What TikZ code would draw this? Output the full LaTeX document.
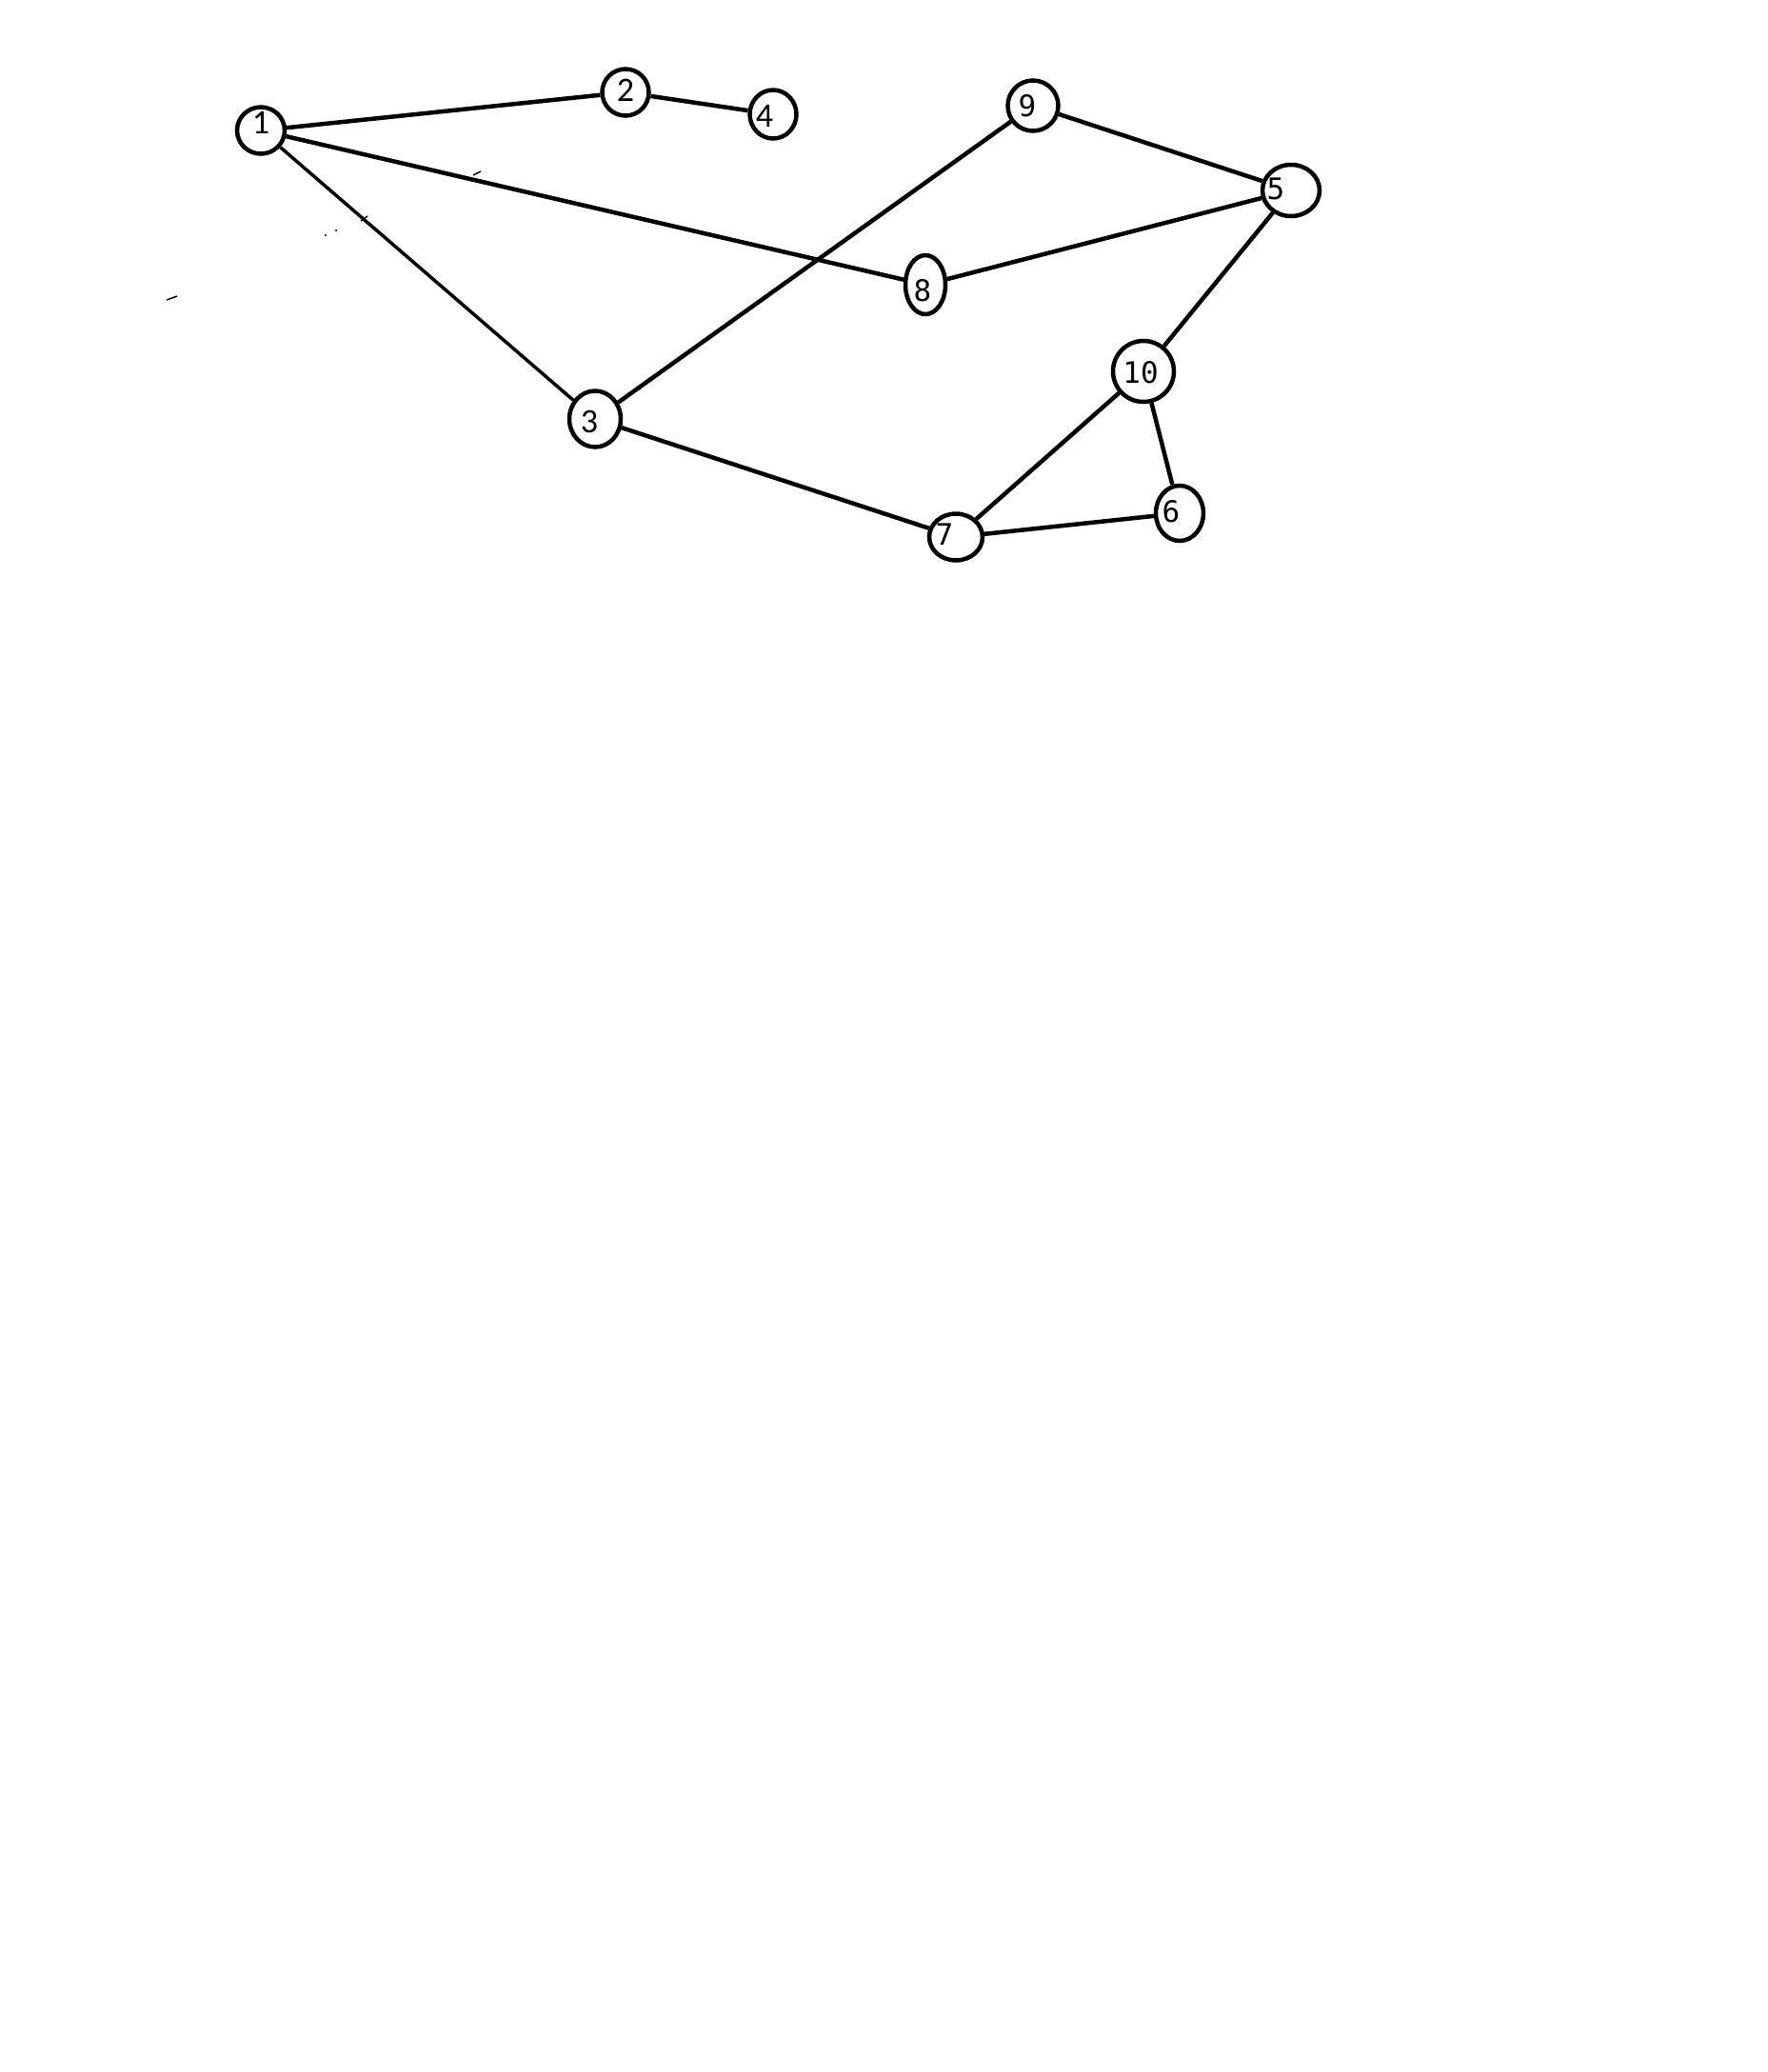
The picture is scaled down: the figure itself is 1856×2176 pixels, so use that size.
\documentclass[tikz,border=0pt]{standalone}
\usepackage{fontspec}
\setmainfont{Carlito}
\newfontfamily\monofnt{DejaVu Sans Mono}
\usetikzlibrary{shapes.geometric}
\tikzset{vertex/.style={draw,ellipse,line width=4.5pt,inner sep=0},
    link/.style={line width=4.5pt},
    sanslabel/.style={font=\fontsize{36}{40}\selectfont,inner sep=0},
    monolabel/.style={font=\monofnt\fontsize{31}{36}\selectfont,inner sep=0},
    speck/.style={line width=1.5pt}
}

\begin{document}
\begin{tikzpicture}[x=1pt,y=-1pt]

\useasboundingbox (0,0) rectangle (1856,2176);

\node (n 1) [vertex,minimum width=50,minimum height=49,label={[sanslabel,yshift=8pt]center:1}] at (274,137) {};
\node (n 2) [vertex,minimum width=49,minimum height=49,label={[sanslabel,yshift=2pt]center:2}] at (657,97) {};
\node (n 4) [vertex,minimum width=49,minimum height=51,label={[sanslabel,xshift=-9pt,yshift=-2pt]center:4}] at (812,120) {};
\node (n 3) [vertex,minimum width=54,minimum height=59,label={[sanslabel,xshift=-6pt,yshift=-3pt]center:3}] at (625,440) {};

\node (n 9) [vertex,minimum width=53,minimum height=53,label={[monolabel,xshift=-6pt]center:9}] at (1085,111) {};
\node (n 5) [vertex,minimum width=60,minimum height=54,label={[monolabel,xshift=-16pt,yshift=2pt]center:5}] at (1356,200) {};
\node (n 8) [vertex,minimum width=42,minimum height=62,label={[monolabel,xshift=-3pt,yshift=-6pt]center:8}] at (972,299) {};
\node (n 10) [vertex,minimum width=64,minimum height=64,label={[monolabel,xshift=-3pt,yshift=-1pt]center:10}] at (1201,390) {};
\node (n 6) [vertex,minimum width=50,minimum height=58,label={[monolabel,xshift=-9pt,yshift=2pt]center:6}] at (1239,539) {};
\node (n 7) [vertex,minimum width=56,minimum height=49,label={[monolabel,xshift=-12pt,yshift=3pt]center:7}] at (1004,564) {};

\draw [link] (n 1) -- (n 2);
\draw [link] (n 2) -- (n 4);
\draw [link] (n 1) -- (n 8);
\draw [link,line width=3.5pt] (n 1) -- (n 3);
\draw [link] (n 3) -- (n 9);
\draw [link] (n 9) -- (n 5);
\draw [link] (n 8) -- (n 5);
\draw [link] (n 5) -- (n 10);
\draw [link] (n 10) -- (n 7);
\draw [link] (n 10) -- (n 6);
\draw [link] (n 3) -- (n 7);
\draw [link] (n 7) -- (n 6);

% stray marks
\draw [speck] (497,184) -- (505,180);
\draw [speck] (379,232) -- (386,227);
\fill (342,247) circle (1.2);
\fill (353,242) circle (1.2);
\draw [speck] (175,315) -- (186,311);

\end{tikzpicture}
\end{document}
